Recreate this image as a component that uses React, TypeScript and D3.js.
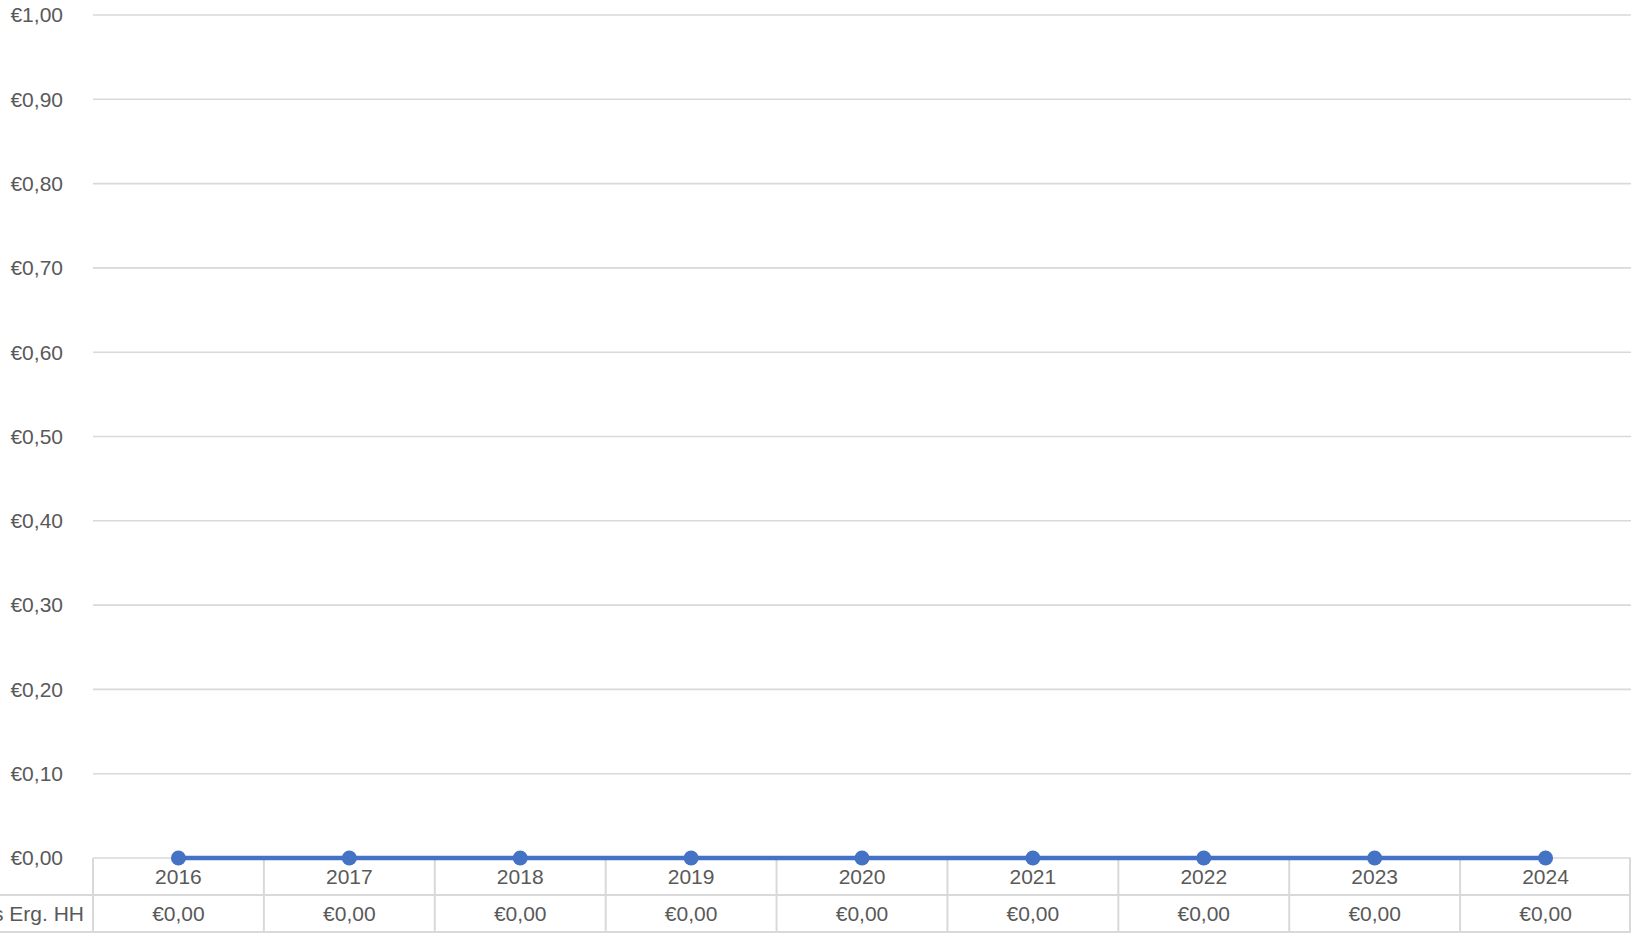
import { useEffect, useRef } from 'react';
import * as d3 from 'd3';

const years = ['2016', '2017', '2018', '2019', '2020', '2021', '2022', '2023', '2024'];
const values = [0, 0, 0, 0, 0, 0, 0, 0, 0];
const yTicks = [0, 0.1, 0.2, 0.3, 0.4, 0.5, 0.6, 0.7, 0.8, 0.9, 1.0];
const seriesName = 's Erg. HH';

const width = 1631;
const height = 943;

const fmt = (v: number) => '€' + v.toFixed(2).replace('.', ',');

export default function App() {
  const svgRef = useRef<SVGSVGElement>(null);

  useEffect(() => {
    if (!svgRef.current) return;
    const svg = d3.select(svgRef.current);
    svg.selectAll('*').remove();

    const left = 93;
    const right = width;
    const top = 15;
    const bottom = 858;
    const rowH = 37;
    const font = '"Liberation Sans", Arial, sans-serif';
    const grey = '#D9D9D9';
    const textCol = '#595959';

    const x = d3.scaleBand().domain(years).range([left, right]);
    const y = d3.scaleLinear().domain([0, 1]).range([bottom, top]);

    // gridlines
    svg.append('g')
      .selectAll('line')
      .data(yTicks)
      .enter().append('line')
      .attr('x1', left)
      .attr('x2', right)
      .attr('y1', d => y(d))
      .attr('y2', d => y(d))
      .attr('stroke', grey)
      .attr('stroke-width', 1.6);

    // y labels
    svg.append('g')
      .selectAll('text')
      .data(yTicks)
      .enter().append('text')
      .attr('x', 63)
      .attr('y', d => y(d))
      .attr('dy', '0.35em')
      .attr('text-anchor', 'end')
      .attr('font-family', font)
      .attr('font-size', 21)
      .attr('fill', textCol)
      .text(d => fmt(d));

    // data table lines
    const t = svg.append('g').attr('stroke', grey).attr('stroke-width', 2);
    t.append('line').attr('x1', 0).attr('x2', right).attr('y1', bottom + rowH).attr('y2', bottom + rowH);
    t.append('line').attr('x1', 0).attr('x2', right).attr('y1', bottom + rowH * 2).attr('y2', bottom + rowH * 2);
    t.selectAll('.vl')
      .data([...years.map(d => x(d) || 0), right - 1])
      .enter().append('line')
      .attr('class', 'vl')
      .attr('x1', d => d)
      .attr('x2', d => d)
      .attr('y1', bottom)
      .attr('y2', bottom + rowH * 2);

    // year labels
    svg.append('g')
      .selectAll('text')
      .data(years)
      .enter().append('text')
      .attr('x', d => (x(d) || 0) + x.bandwidth() / 2)
      .attr('y', bottom + rowH / 2)
      .attr('dy', '0.35em')
      .attr('text-anchor', 'middle')
      .attr('font-family', font)
      .attr('font-size', 21)
      .attr('fill', textCol)
      .text(d => d);

    // value labels
    svg.append('g')
      .selectAll('text')
      .data(values)
      .enter().append('text')
      .attr('x', (d, i) => (x(years[i]) || 0) + x.bandwidth() / 2)
      .attr('y', bottom + rowH * 1.5)
      .attr('dy', '0.35em')
      .attr('text-anchor', 'middle')
      .attr('font-family', font)
      .attr('font-size', 21)
      .attr('fill', textCol)
      .text(d => fmt(d));

    svg.append('text')
      .attr('x', 84)
      .attr('y', bottom + rowH * 1.5)
      .attr('dy', '0.35em')
      .attr('text-anchor', 'end')
      .attr('font-family', font)
      .attr('font-size', 21)
      .attr('fill', textCol)
      .text(seriesName);

    // line + markers
    const line = d3.line<number>()
      .x((d, i) => (x(years[i]) || 0) + x.bandwidth() / 2)
      .y(d => y(d));

    svg.append('path')
      .datum(values)
      .attr('fill', 'none')
      .attr('stroke', '#4472C4')
      .attr('stroke-width', 4.5)
      .attr('d', line);

    svg.append('g')
      .selectAll('circle')
      .data(values)
      .enter().append('circle')
      .attr('cx', (d, i) => (x(years[i]) || 0) + x.bandwidth() / 2)
      .attr('cy', d => y(d))
      .attr('r', 7.5)
      .attr('fill', '#4472C4');
  }, []);

  return (
    <div style={{ position: 'absolute', left: 0, top: 0, background: '#fff' }}>
      <svg ref={svgRef} width={width} height={height} style={{ display: 'block' }} />
    </div>
  );
}
